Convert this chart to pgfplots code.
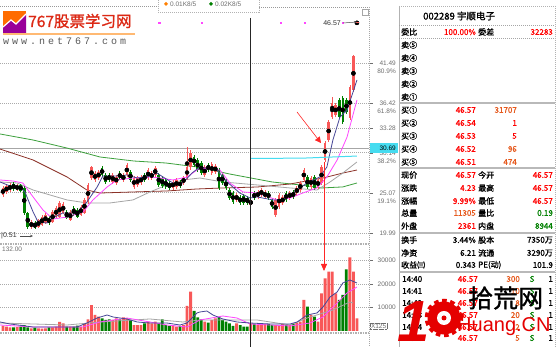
\documentclass[border=0pt]{standalone}
\usepackage{pgfplots}
\pgfplotsset{compat=1.18}
\usepackage{pgfplotstable}
\usepackage{fontspec}
\setmainfont{Liberation Sans}
\newfontfamily\cjk{Noto Sans CJK SC}
\newfontfamily\cjkb[FakeBold=1.2]{Noto Sans CJK SC}
\newfontfamily\monoL[LetterSpace=30]{Liberation Mono}
\usetikzlibrary{arrows.meta}
\definecolor{upred}{RGB}{248,88,88}
\definecolor{dngreen}{RGB}{0,128,0}
\definecolor{maA}{RGB}{70,70,150}
\definecolor{maB}{RGB}{255,70,255}
\definecolor{maC}{RGB}{165,165,165}
\definecolor{maD}{RGB}{140,50,40}
\definecolor{maE}{RGB}{60,160,60}
\definecolor{cyanl}{RGB}{70,220,240}
\definecolor{numor}{RGB}{230,90,30}
\definecolor{gridc}{RGB}{170,170,170}
\definecolor{labc}{RGB}{110,110,110}

\pgfplotstableread{
i o h l c v
0 24.78 25.92 24.53 25.67 2130
1 25.16 26.17 24.91 25.92 1840
2 25.41 26.30 25.16 26.05 1560
4 25.41 26.17 25.29 26.05 1700
8 20.73 21.61 20.47 21.36 1130
10 20.73 21.74 20.60 21.61 1130
11 20.98 22.25 20.85 21.99 990
12 21.23 22.50 21.11 22.25 1130
14 21.36 22.88 21.23 22.63 1560
15 21.99 23.39 21.87 23.13 1840
16 21.99 24.02 21.87 23.77 3830
17 22.50 23.89 22.37 23.64 3260
19 21.61 22.88 21.49 22.63 1840
22 22.25 23.52 22.12 23.26 1840
23 22.50 24.40 22.37 24.15 3000
24 23.89 26.30 23.64 26.05 4960
25 26.93 28.45 26.68 28.32 11060
26 26.68 27.82 26.43 27.56 6810
27 26.93 27.94 26.68 27.69 6100
31 26.43 27.56 26.17 27.31 4680
32 26.30 27.31 26.05 27.06 5390
34 26.68 27.56 26.43 27.31 5820
35 27.31 28.83 27.06 28.58 5390
37 25.79 27.18 25.54 26.93 2550
38 26.05 27.18 25.79 26.93 2550
39 26.30 27.31 26.05 27.06 2550
41 26.93 28.20 26.68 27.94 3970
42 26.93 27.82 26.68 27.56 3260
43 27.31 28.45 27.06 28.20 3970
48 25.67 26.68 25.41 26.43 2550
49 25.79 26.93 25.54 26.68 1840
51 26.30 27.18 26.05 26.93 2550
52 26.93 30.86 26.68 28.32 10640
53 28.32 30.48 27.94 30.10 16730
57 27.31 28.58 27.06 28.32 3970
59 27.56 28.96 27.31 28.70 4680
60 27.69 28.70 27.44 28.45 5390
66 24.15 25.03 23.89 24.78 3260
70 23.52 24.40 23.26 24.15 3260
72 24.53 25.41 24.27 25.16 2550
73 24.78 25.67 24.53 25.41 2550
74 24.53 25.41 24.27 25.16 2980
77 22.25 24.40 21.99 24.15 2550
78 23.26 25.03 23.01 24.78 2550
79 23.77 24.78 23.52 24.53 2980
81 24.40 25.29 24.15 25.03 2550
83 25.03 25.92 24.78 25.67 3540
84 25.41 26.55 25.16 26.30 3970
85 26.68 28.20 26.43 27.94 13190
87 25.79 27.18 25.54 26.93 6810
89 25.79 26.93 25.54 26.68 3970
90 26.30 28.58 26.05 28.32 16040
91 29.21 31.61 28.96 31.36 22420
92 31.74 34.27 31.49 34.02 25230
93 34.65 37.19 34.40 36.43 25230
94 34.91 36.43 34.65 36.17 16040
98 34.53 38.70 34.27 38.45 31360
99 38.07 42.50 37.82 42.34 25230
100 46.57 46.57 46.57 46.57 5390
}\up

\pgfplotstableread{
i o h l c v
3 26.17 26.43 25.29 25.54 1560
5 26.05 26.17 25.16 25.29 1840
6 25.67 25.92 22.25 22.50 2550
7 22.50 22.63 20.47 20.73 1560
9 21.23 21.49 20.51 20.60 1420
13 21.87 22.12 20.98 21.23 1560
18 22.63 22.88 21.74 21.87 1840
20 23.13 23.39 22.12 22.25 1840
21 22.88 23.13 21.87 21.99 2270
28 28.20 28.45 27.06 27.31 5390
29 27.31 27.56 26.17 26.43 4680
30 27.31 27.56 26.43 26.68 4960
33 27.56 27.82 26.68 26.93 4960
36 27.69 27.94 26.43 26.68 4680
40 27.31 27.56 26.43 26.68 3260
44 27.31 27.56 25.79 26.05 3260
45 26.93 27.18 25.67 25.92 4960
46 26.68 26.93 25.54 25.79 2550
47 26.30 26.55 25.41 25.67 2130
50 26.43 26.68 25.67 25.92 2130
54 29.59 29.84 28.32 28.58 8510
55 29.21 29.46 27.69 27.94 5820
56 28.83 29.08 27.31 27.56 4960
58 28.58 28.83 27.69 27.94 3540
61 27.94 28.20 25.41 25.67 5820
62 27.31 27.56 26.05 26.30 4680
63 26.68 26.93 25.41 25.67 3970
64 25.41 25.67 24.15 24.40 3260
65 25.03 25.29 23.64 23.89 2130
67 24.53 24.78 23.52 23.77 2550
68 24.65 24.91 23.52 23.77 1840
69 24.40 24.65 23.52 23.77 1840
71 25.03 25.29 24.15 24.40 2980
75 25.03 25.29 24.15 24.40 2980
76 24.15 24.40 23.01 23.26 2550
80 25.03 25.29 23.89 24.15 2550
82 25.16 25.41 24.27 24.53 2980
86 27.06 27.31 25.54 25.79 10340
88 27.06 27.31 25.41 25.67 6100
95 36.81 37.06 34.40 34.65 13190
96 37.06 37.31 33.76 34.02 15320
97 36.81 37.06 35.03 35.29 26250
}\dn

\tikzset{
  gridl/.style={gridc, line width=0.6pt, dash pattern=on 1pt off 1pt},
  lab/.style={font=\fontsize{6.5}{7}\selectfont, text=labc, inner sep=0pt},
  t/.style={font=\cjkb\fontsize{8}{9}\selectfont, inner sep=0pt},
}

\begin{document}
\begin{tikzpicture}
\useasboundingbox (0pt,0pt) rectangle (558pt,347pt);
\fill[white] (0pt,0pt) rectangle (558pt,347pt);

% ---------------- price panel ----------------
\begin{axis}[at={(0pt,103pt)}, anchor=south west, width=369pt, height=237pt,
  scale only axis, xmin=-0.85, xmax=103.4, ymin=18.576, ymax=48.58,
  hide axis, clip=true]
\pgfplotsinvokeforeach{41.49,36.42,33.28,30.14,25.07,19.99}{
  \draw[gridl] (-0.85,#1) -- (103.4,#1);
}
\draw[gray!70, line width=1.6pt] (-0.85,30.69) -- (103.4,30.69);
% long moving averages
\addplot[maE, line width=0.8pt] coordinates {(-0.8,32.50) (8.5,31.74) (18,30.73) (27.4,29.59) (37,29.08) (46,28.83) (55,28.32) (64,27.44) (76,26.43) (84,26.05) (90,25.67) (96,25.80) (100,26.30)};
\addplot[maD, line width=0.8pt] coordinates {(-0.85,30.60) (8.5,29.21) (18.1,27.06) (23.7,25.41) (27.4,25.03) (36.7,25.16) (46.3,25.29) (54.8,25.54) (62.1,25.67) (71.8,25.79) (81.1,26.17) (90.4,26.93) (96.0,27.56) (100,27.94)};
\addplot[maC, line width=0.8pt] coordinates {(-0.85,26.43) (4.0,26.30) (8.5,25.41) (18.1,24.15) (23.7,23.77) (30.2,23.77) (36.7,24.15) (41.5,25.16) (46.3,26.05) (50.8,26.68) (55.6,26.93) (62.1,26.43) (71.8,26.05) (81.1,25.67) (88.7,25.41) (92.4,26.43) (96.0,27.56) (100,28.96)};
% candles: wicks
\addplot[only marks, mark=none, error bars/.cd, y dir=both, y explicit, error mark=none,
  error bar style={line width=0.7pt, draw=upred}]
  table[x=i, y expr={(\thisrow{h}+\thisrow{l})/2}, y error expr={(\thisrow{h}-\thisrow{l})/2}]{\up};
\addplot[only marks, mark=none, error bars/.cd, y dir=both, y explicit, error mark=none,
  error bar style={line width=0.7pt, draw=dngreen}]
  table[x=i, y expr={(\thisrow{h}+\thisrow{l})/2}, y error expr={(\thisrow{h}-\thisrow{l})/2}]{\dn};
% candles: bodies
\addplot[only marks, mark=none, error bars/.cd, y dir=both, y explicit, error mark=none,
  error bar style={line width=2.6pt, draw=upred}]
  table[x=i, y expr={(\thisrow{o}+\thisrow{c})/2}, y error expr={abs(\thisrow{c}-\thisrow{o})/2}]{\up};
\addplot[only marks, mark=none, error bars/.cd, y dir=both, y explicit, error mark=none,
  error bar style={line width=2.6pt, draw=dngreen}]
  table[x=i, y expr={(\thisrow{o}+\thisrow{c})/2}, y error expr={abs(\thisrow{c}-\thisrow{o})/2}]{\dn};
\addplot[only marks, mark=-, mark size=1.8pt, upred, line width=1pt] coordinates {(100,46.57)};
\addplot[only marks, mark=square*, mark size=0.6pt, maB] coordinates {(44.1,46.57) (56.2,46.57) (78.5,46.57) (85.3,46.57) (96.0,46.57)};
% short moving averages
\addplot[maB, line width=0.8pt] coordinates {(-0.85,26.68) (2.8,26.55) (5.6,26.30) (8.5,24.53) (11.3,22.88) (14.1,21.74) (18.1,21.99) (22.6,22.63) (25.4,24.15) (29.4,25.79) (32.2,26.68) (36.7,26.93) (41.5,27.06) (44.4,26.93) (48.0,26.68) (52.0,27.06) (55.6,28.20) (61.3,27.94) (64.1,26.30) (67.8,25.16) (71.8,25.03) (77.4,24.15) (81.1,24.40) (84.7,25.03) (88.7,25.67) (91.5,27.06) (94.4,29.21) (97.2,32.12) (100,36.81)};
\addplot[maA, line width=0.8pt] coordinates {(-0.85,26.43) (2.0,25.92) (4.8,25.79) (6.2,25.16) (8.5,22.63) (9.9,21.36) (12.4,21.23) (14.1,21.87) (16.9,22.50) (20.9,22.50) (23.7,23.89) (26.6,25.79) (28.2,27.18) (32.2,27.18) (35.0,27.31) (37.9,26.93) (40.7,27.06) (43.5,27.56) (45.2,27.06) (48.0,26.30) (50.8,26.30) (53.4,27.56) (55.6,28.32) (60.5,27.94) (63.3,26.43) (66.9,25.03) (69.8,24.40) (71.8,24.53) (76.3,24.15) (78.8,24.15) (81.9,25.03) (85.9,26.30) (89.5,27.06) (91.5,28.32) (93.2,31.74) (95.2,34.65) (97.2,35.51) (100,39.34)};
\addplot[cyanl, line width=1pt] coordinates {(69.8,29.40) (85,29.45) (100,29.71)};
\end{axis}

% ---------------- volume panel ----------------
\begin{axis}[at={(0pt,14pt)}, anchor=south west, width=369pt, height=89pt,
  scale only axis, xmin=-0.85, xmax=103.4, ymin=-851, ymax=37019,
  hide axis, clip=true]
\pgfplotsinvokeforeach{10000,20000,30000}{
  \draw[gridl] (-0.85,#1) -- (103.4,#1);
}
\addplot[ybar, bar width=2.8pt, bar shift=0pt, fill=upred, draw=none] table[x=i, y=v]{\up};
\addplot[ybar, bar width=2.8pt, bar shift=0pt, fill=dngreen, draw=none] table[x=i, y=v]{\dn};
\addplot[maC, line width=0.8pt] coordinates {(-0.85,3400) (18.1,2550) (27.4,3830) (41.5,5110) (50.8,3830) (55.6,4680) (71.8,4680) (81.1,2550) (85.9,5530) (93.2,8940) (98.0,12340) (98.9,11910)};
\addplot[maB, line width=0.8pt] coordinates {(-0.85,2550) (8.5,1700) (15.3,1700) (22.6,1700) (27.4,3830) (35.0,5530) (41.5,3830) (46.3,2550) (52.0,1700) (55.6,4680) (62.1,6380) (66.1,5530) (69.8,2980) (81.1,2130) (86.7,3400) (90.4,5960) (94.4,11910) (97.2,16170) (100,18720)};
\addplot[maA, line width=0.8pt] coordinates {(-0.85,3830) (2.0,2980) (8.5,1700) (13.3,1700) (20.9,1700) (23.7,3400) (26.6,5530) (29.4,6810) (31.1,5960) (35.0,5110) (37.9,3830) (41.5,3400) (46.3,3400) (50.0,2550) (52.0,3400) (54.8,7660) (55.6,8080) (57.6,8510) (59.3,6810) (62.1,5110) (66.1,3830) (69.8,3400) (75.4,2980) (81.1,2980) (83.1,3830) (85.9,6810) (88.7,7660) (90.4,10210) (92.4,14470) (94.4,16600) (96.0,20420) (98.0,21700) (100,20420)};
\end{axis}

\begin{scope}[x=1pt,y=1pt]
% frames of the chart
\draw[gray!80, line width=0.8pt, dash pattern=on 1pt off 1pt] (0,347-6) -- (158,347-6);
\draw[gray!80, line width=0.8pt, dash pattern=on 1pt off 1pt] (259,347-7) -- (369,347-7);
\draw[gray!60, line width=1.4pt, dash pattern=on 1.5pt off 1pt] (0,347-244) -- (369,347-244);
\draw[gray!60, line width=1.2pt, dash pattern=on 1.5pt off 1pt] (0,347-333) -- (369,347-333);
\draw[gray!70, line width=0.6pt, dash pattern=on 1pt off 1pt] (369,347-7) -- (369,0);
\draw[gray!60, line width=0.8pt] (399,347-6) -- (399,0);
\draw[gray!60, line width=0.8pt, dash pattern=on 1pt off 1pt] (555,347-6) -- (555,0);
\draw[gray!60, line width=0.8pt, dash pattern=on 1pt off 1pt] (399,347-6) -- (555,347-6);
\draw[gray!70, line width=0.6pt] (362,347-9) rectangle (368,347-15);
% header legend box
\draw[gray!60, dash pattern=on 1pt off 1pt] (158,347) -- (158,347-12) -- (259,347-12) -- (259,347);
\fill[orange] (164,347-4) -- (166,347-2) -- (168,347-4) -- (166,347-6) -- cycle;
\node[lab, anchor=west] at (170,347-4) {0.01K8/5};
\fill[dngreen] (209,347-4) -- (211,347-2) -- (213,347-4) -- (211,347-6) -- cycle;
\node[lab, anchor=west] at (215,347-4) {0.02K8/5};
% crosshair vertical
\draw[gray!30!black, line width=0.7pt] (250.7,347-18) -- (250.7,0);
% price labels
\foreach \yy/\tx in {63/41.49, 103/36.42, 128/33.28, 153/30.14, 193/25.07, 233/19.99}{
  \draw[labc, line width=0.5pt] (370,347-\yy) -- (373,347-\yy);
  \node[lab, anchor=east] at (396,347-\yy) {\tx};
}
\foreach \yy/\tx in {71/80.9\%, 111/61.8\%, 161/38.2\%, 201/19.1\%}{
  \node[lab, anchor=east] at (396,347-\yy) {\tx};
}
\fill[cyanl] (370,347-143.5) rectangle (398,347-153.5);
\node[font=\fontsize{6.5}{7}\selectfont, inner sep=0pt, anchor=east] at (396,347-148.5) {30.69};
% volume labels
\foreach \yy/\tx in {260.5/30000, 284/20000, 307.5/10000}{
  \draw[labc, line width=0.5pt] (370,347-\yy) -- (373,347-\yy);
  \node[lab, anchor=east] at (396,347-\yy) {\tx};
}
\node[lab, draw=labc, dash pattern=on 0.6pt off 0.6pt, inner sep=0.8pt, anchor=west] at (370,347-326) {X125};
\node[lab, anchor=west] at (2,347-249) {132.00};
% high / low marks
\node[font=\fontsize{7}{8}\selectfont, text=black!80, inner sep=0pt, anchor=east] at (341,347-23) {46.57};
\draw[-{Stealth[length=3pt,width=2.5pt]}, black!70, line width=0.5pt] (343,347-23) -- (357,347-22);
\node[font=\fontsize{7}{8}\selectfont, text=black!80, inner sep=0pt, anchor=west] at (1,347-236) {|0.51};
\draw[-{Stealth[length=3pt,width=2.5pt]}, black!70, line width=0.5pt] (20,347-236) -- (33,347-236);
% red annotation arrows
\draw[red!85, line width=0.6pt, -{Triangle[length=6pt,width=6pt]}] (297,347-112) -- (321,347-143);
\draw[red!85, line width=0.8pt, -{Triangle[length=7pt,width=6pt]}] (324,347-162) -- (324,347-271);

% logo
\fill[orange!85!red] (3,347-11) rectangle (26,347-33);
\fill[violet!80!magenta] (3,347-33) -- (3,347-27) -- (11,347-20) -- (16,347-24) -- (26,347-14) -- (26,347-33) -- cycle;
\draw[white, line width=1.2pt] (3,347-27) -- (11,347-20) -- (16,347-24) -- (26,347-14);
\node[font=\cjkb\fontsize{15.5}{16}\selectfont, text={rgb,255:red,220;green,40;blue,20}, inner sep=0pt, anchor=west] at (28,347-21) {767股票学习网};
\fill[orange!55] (3,347-35.5) rectangle (135,347-33.5);
\node[font=\monoL\fontsize{10}{10}\selectfont, text=black!65, inner sep=0pt, anchor=west] at (3,347-41.5) {www.net767.com};

% info panel
\node[font=\cjkb\fontsize{9.5}{10}\selectfont, inner sep=0pt, anchor=west] at (423,347-16) {002289 宇顺电子};
\draw[gray!70, line width=0.6pt, dash pattern=on 1pt off 1pt] (399,347-25) -- (555,347-25);
\draw[gray!70, line width=0.6pt, dash pattern=on 1pt off 1pt] (399,347-38) -- (555,347-38);
\foreach \yy in {103,168,233,272}{
  \draw[gray!55, line width=1.4pt] (399,347-\yy) -- (555,347-\yy);
}
\node[t, anchor=west] at (401,347-32) {委比};
\node[t, anchor=east, text=red] at (476,347-32) {100.00\%};
\node[t, anchor=west] at (478,347-32) {委差};
\node[t, anchor=east, text=red] at (553,347-32) {32283};
\foreach \yy/\tx in {45/卖⑤, 58/卖④, 71/卖③, 84/卖②, 97/卖①}{
  \node[t, anchor=west] at (401,347-\yy) {\tx};
}
\foreach \yy/\tx/\pr/\vo/\cc in {110/买①/46.57/31707/numor, 123/买②/46.54/1/red, 136/买③/46.53/5/red, 149/买④/46.52/96/numor, 162/买⑤/46.51/474/numor}{
  \node[t, anchor=west] at (401,347-\yy) {\tx};
  \node[t, anchor=east, text=red] at (476,347-\yy) {\pr};
  \node[t, anchor=east, text=\cc] at (517,347-\yy) {\vo};
}
\foreach \yy/\la/\va/\ca/\lb/\vb/\cb in {
  175/现价/46.57/red/今开/46.57/red,
  188/涨跌/4.23/red/最高/46.57/red,
  201/涨幅/9.99\%/red/最低/46.57/red,
  213/总量/11305/numor/量比/0.19/dngreen,
  226/外盘/2361/red/内盘/8944/dngreen,
  240/换手/3.44\%/black/股本/7350万/black,
  253/净资/6.21/black/流通/3290万/black,
  265/收益㈢/0.343/black/PE(动)/101.9/black}{
  \node[t, anchor=west] at (401,347-\yy) {\la};
  \node[t, anchor=east, text=\ca] at (476,347-\yy) {\va};
  \node[t, anchor=west] at (478,347-\yy) {\lb};
  \node[t, anchor=east, text=\cb] at (553,347-\yy) {\vb};
}
\foreach \yy/\tm/\vo in {279/14:40/300, 291/14:41/10, 303/14:42/8, 315/14:43/20, 327/14:44/2, 338/14:46/5}{
  \node[t, anchor=west] at (402,347-\yy) {\tm};
  \node[t, anchor=east, text=red] at (478,347-\yy) {46.57};
  \node[t, anchor=east, text=numor] at (520,347-\yy) {\vo};
  \node[t, text=dngreen] at (532,347-\yy) {S};
  \node[t, anchor=east] at (553,347-\yy) {1};
}
% watermark
\node[font=\bfseries\itshape\fontsize{58}{58}\selectfont, text=red!90!black, inner sep=0pt] at (414,347-322) {1};
\draw[red!90!black, line width=4.5pt, dash pattern=on 4.5pt off 3.5pt] (444,347-318) circle (17);
\fill[red!90!black] (444,347-318) circle (16.5);
\fill[white] (444,347-318) circle (7);
\fill[red!90!black] (444,347-318) circle (2.5);
\node[font=\cjkb\fontsize{25}{25}\selectfont, inner sep=0pt, anchor=west] at (468,347-298) {拾荒网};
\node[font=\fontsize{20}{20}\selectfont, text=red!90!black, inner sep=0pt, anchor=west] at (457,347-327) {Huang.CN};
\end{scope}
\end{tikzpicture}
\end{document}
